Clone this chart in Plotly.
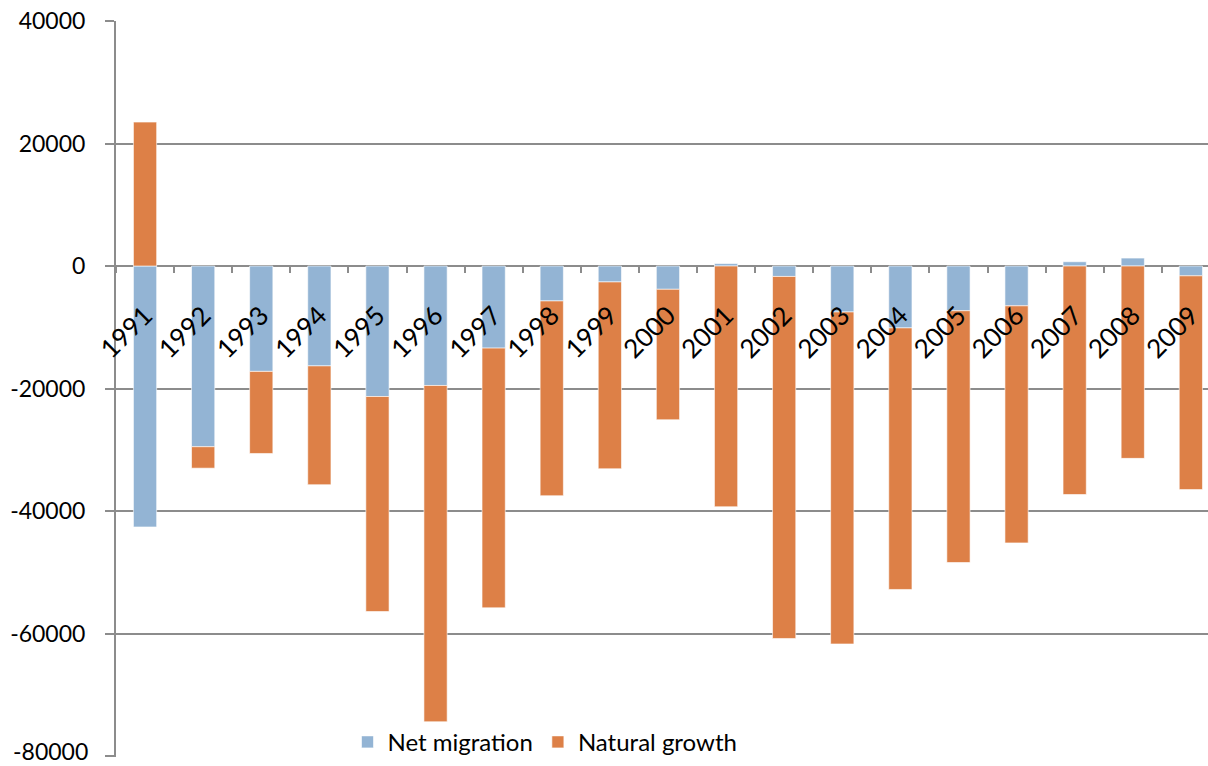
import plotly.graph_objects as go

# Population change by year
years = ["1991", "1992", "1993", "1994", "1995", "1996", "1997", "1998", "1999", "2000",
         "2001", "2002", "2003", "2004", "2005", "2006", "2007", "2008", "2009"]
net_migration = [-42600, -29500, -17200, -16300, -21300, -19500, -13400, -5700, -2600, -3800,
                 400, -1700, -7500, -10100, -7300, -6500, 700, 1300, -1600]
natural_growth = [23500, -3500, -13400, -19400, -35100, -54900, -42400, -31800, -30500, -21300,
                  -39300, -59100, -54200, -42700, -41100, -38700, -37300, -31400, -34900]

y_ticks = [40000, 20000, 0, -20000, -40000, -60000, -80000]

BLUE = "#93B4D4"
ORANGE = "#DD8047"
GRID = "#8C8C8C"
FONT = "Lato"

# Small padding below the lowest gridline so it is still drawn
Y_MIN, Y_MAX = -80150, 40000
ZERO_POS = (0 - Y_MIN) / (Y_MAX - Y_MIN)

fig = go.Figure()
fig.add_trace(go.Bar(
    x=years, y=net_migration, name="Net migration",
    marker=dict(color=BLUE, line=dict(color="rgba(255,255,255,0.6)", width=1)),
))
fig.add_trace(go.Bar(
    x=years, y=natural_growth, name="Natural growth",
    marker=dict(color=ORANGE, line=dict(color="rgba(255,255,255,0.6)", width=1)),
))

# The lowest tick label sits on the page edge; draw it as an annotation nudged up
bottom_tick = min(y_ticks)
fig.add_annotation(
    x=0, xref="paper", xanchor="right", xshift=-26,
    y=bottom_tick, yref="y", yanchor="middle", yshift=5,
    text=str(bottom_tick), showarrow=False,
    font=dict(family=FONT, size=23, color="black"),
)

fig.update_layout(
    width=1208, height=766,
    barmode="relative",
    bargap=0.6,
    plot_bgcolor="white",
    paper_bgcolor="white",
    margin=dict(l=116, r=0, t=21, b=9),
    font=dict(family=FONT, size=24, color="black"),
    showlegend=True,
    legend=dict(
        orientation="h",
        x=0.212, xanchor="left",
        y=0.02, yanchor="middle",
        bgcolor="rgba(0,0,0,0)",
        font=dict(family=FONT, size=24, color="black"),
        itemwidth=30,
    ),
    xaxis=dict(
        type="category",
        range=[-0.5, 18.295],
        anchor="free",
        position=ZERO_POS,
        automargin=False,
        showline=False,
        showgrid=False,
        zeroline=False,
        ticks="outside",
        tickson="boundaries",
        ticklen=6,
        tickwidth=1.5,
        tickcolor=GRID,
        tickangle=-45,
        ticklabelstandoff=28,
        tickfont=dict(family=FONT, size=26, color="black"),
    ),
    yaxis=dict(
        range=[Y_MIN, Y_MAX],
        automargin=False,
        tickvals=y_ticks,
        ticktext=[str(v) if v != bottom_tick else "" for v in y_ticks],
        showgrid=True,
        gridcolor=GRID,
        gridwidth=1.5,
        zeroline=True,
        zerolinecolor=GRID,
        zerolinewidth=2,
        showline=True,
        linecolor=GRID,
        linewidth=2,
        ticks="outside",
        ticklen=9,
        tickwidth=1.5,
        tickcolor=GRID,
        ticklabelstandoff=15,
        tickfont=dict(family=FONT, size=23, color="black"),
    ),
)

fig.write_html("out.html")
